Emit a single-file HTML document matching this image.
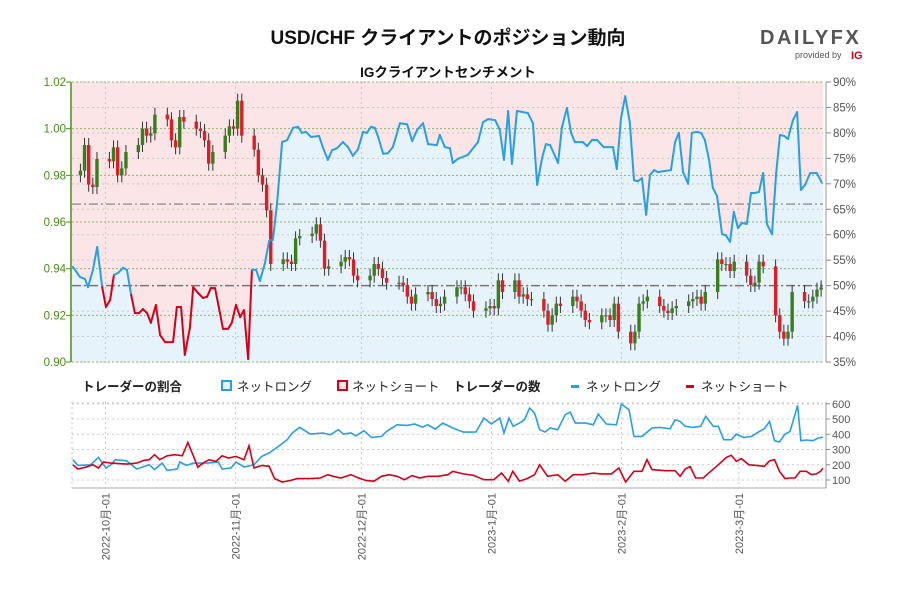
<!DOCTYPE html>
<html><head><meta charset="utf-8"><style>
body{margin:0;background:#fff;width:900px;height:600px;overflow:hidden;font-family:"Liberation Sans","Noto Sans CJK JP",sans-serif}
svg text{font-family:"Liberation Sans","Noto Sans CJK JP",sans-serif}
</style></head><body>
<svg id="c" width="900" height="600" viewBox="0 0 900 600">
<text x="448" y="44" text-anchor="middle" font-size="19" font-weight="bold" fill="#111">USD/CHF クライアントのポジション動向</text>
<text x="448" y="77" text-anchor="middle" font-size="13.5" font-weight="bold" fill="#111">IGクライアントセンチメント</text>
<g>
<text x="760" y="44" font-size="20" font-weight="bold" fill="#555" letter-spacing="2.5">DAILYFX</text>
<text x="795" y="58" font-size="9" fill="#555">provided by</text>
<text x="851" y="59" font-size="11" font-weight="bold" fill="#d0021b">IG</text>
</g>
<defs><clipPath id="pc"><rect x="72" y="82" width="751" height="280"/></clipPath>
<clipPath id="bc"><rect x="72" y="402" width="751" height="86"/></clipPath></defs>
<g id="main"></g>
<g id="bottom"></g>
<g font-size="12.5" fill="#222">
<text x="82" y="391" font-weight="bold">トレーダーの割合</text>
<rect x="222" y="381" width="9" height="9" fill="#e6f3fb" stroke="#2a9fe0" stroke-width="2"/>
<text x="237" y="391">ネットロング</text>
<rect x="338" y="381" width="9" height="9" fill="#fbe5e6" stroke="#d0021b" stroke-width="2"/>
<text x="352" y="391">ネットショート</text>
<text x="453" y="391" font-weight="bold">トレーダーの数</text>
<rect x="571" y="385" width="8" height="3" fill="#2a9fe0"/>
<text x="586" y="391">ネットロング</text>
<rect x="686" y="385" width="8" height="3" fill="#d0021b"/>
<text x="701" y="391">ネットショート</text>
</g>
</svg>
<script>
// sentiment (% net long) : day offset from 2022-09-23
const sentDays=[0.2,1.9,3.1,3.8,5.0,6.0,7.2,8.1,9.1,10.0,11.0,12.2,13.1,14.1,15.0,16.0,16.9,17.9,18.8,20.0,21.0,22.2,24.1,25.0,26.0,26.9,28.1,28.9,30.0,31.2,32.2,33.1,34.1,35.0,36.0,37.2,38.1,39.1,40.1,41.0,42.0,42.9,43.9,44.8,46.0,47.0,47.9,48.9,50.1,51.3,52.7,53.9,54.8,55.8,57.0,58.9,59.8,61.0,62.0,63.2,64.6,65.8,67.0,68.2,69.4,70.3,71.3,72.2,73.0,74.2,75.3,76.5,78.2,79.9,81.1,82.3,83.7,84.9,87.0,87.7,88.9,90.1,90.8,92.0,94.4,96.8,98.0,99.2,100.9,102.0,103.0,104.0,104.9,106.1,108.7,109.9,110.9,112.1,113.0,114.0,115.9,116.8,118.0,119.0,119.9,121.8,122.8,124.0,125.2,126.8,129.0,129.9,130.9,131.9,133.0,134.0,134.9,135.9,136.9,137.8,138.8,139.7,142.8,143.8,144.7,145.7,146.9,147.8,149.0,150.0,150.9,151.9,152.8,153.8,155.0,155.9,156.9,157.8,158.8,159.7,160.9,161.9,162.8,163.8,164.8,165.7,166.9,167.9,168.8,169.8,170.7,171.9,172.9,173.8,174.8,176.0,177.6,178.8];
const sentPct=[53.7,51.7,51.3,49.7,53.1,57.6,49.7,45.8,47.2,52.1,52.5,53.5,53.1,48.2,44.6,44.6,45.4,44.6,42.7,46.2,40.3,38.9,38.9,45.8,45.8,36.4,41.7,49.7,48.6,47.6,47.8,49.5,49.5,45.8,41.5,41.5,42.7,46.2,43.8,45.2,35.6,53.1,53.1,50.9,54.4,58.8,59.0,66.2,78.2,78.6,81.0,81.2,80.0,80.2,79.2,79.4,77.2,74.7,76.6,77.0,78.2,77.2,75.5,76.8,80.2,80.0,81.2,81.0,79.2,75.9,76.0,77.2,81.9,81.7,78.4,80.6,81.9,77.8,77.6,79.6,77.2,77.0,74.1,74.9,75.7,78.2,82.1,82.7,82.5,80.6,74.7,84.3,73.9,84.3,83.9,81.9,69.8,75.1,77.8,77.6,74.1,81.0,84.9,80.0,78.2,78.2,77.4,78.6,78.6,77.2,77.2,72.9,82.9,87.2,82.1,70.7,70.5,71.1,63.9,71.7,72.7,72.3,72.7,78.2,80.0,72.3,70.0,80.0,80.2,80.0,78.6,74.7,69.2,67.6,60.1,59.9,58.6,64.5,61.3,62.3,62.1,68.2,68.2,68.4,72.1,62.1,60.1,72.1,79.6,79.4,78.8,82.5,84.1,68.8,69.8,72.1,72.1,70.2];
// daily closes, weekdays from 2022-09-26
const closes=[0.982,0.993,0.976,0.975,0.987, 0.986,0.992,0.980,0.983,0.990, 0.993,1.000,0.997,0.998,1.006, 1.004,0.995,0.992,1.005,1.003, 1.000,0.999,0.995,0.985,0.990, 0.997,1.001,1.000,1.012,0.997, 0.991,0.980,0.976,0.965,0.942, 0.944,0.943,0.942,0.953,0.954, 0.955,0.959,0.952,0.940,0.941, 0.943,0.945,0.944,0.937,0.935, 0.937,0.942,0.940,0.936,0.934, 0.934,0.933,0.928,0.925,0.929, 0.930,0.927,0.924,0.925,0.928, 0.932,0.932,0.929,0.926,0.922, 0.923,0.924,0.923,0.935,0.930, 0.935,0.928,0.929,0.927,0.927, 0.922,0.916,0.920,0.925,0.924, 0.928,0.926,0.922,0.918,0.917, 0.920,0.920,0.918,0.925,0.913, 0.908,0.913,0.925,0.926,0.928, 0.924,0.922,0.921,0.923,0.924, 0.926,0.927,0.928,0.925,0.930, 0.944,0.942,0.942,0.939,0.943, 0.937,0.933,0.934,0.943,0.941, 0.920,0.913,0.910,0.913,0.930, 0.926,0.926,0.928,0.931,0.932];
const firstOpen=0.980;
const longDays=[0.2,1.4,4.4,6.3,8.1,9.3,10.3,13.0,15.4,18.4,19.7,21.5,22.7,25.1,25.7,27.3,29.0,32.4,34.9,35.8,37.9,39.1,41.0,43.4,45.2,47.0,48.9,51.3,52.5,54.3,56.8,59.8,61.6,63.5,64.7,66.5,67.7,69.6,71.4,73.8,75.0,77.5,79.9,81.7,83.6,84.8,86.6,88.4,90.8,93.3,96.3,98.2,100.0,102.0,103.0,104.2,105.2,106.7,107.9,109.1,110.3,111.5,112.8,114.0,115.8,117.6,118.8,120.0,122.5,124.3,125.5,127.4,129.8,131.0,132.8,134.0,135.9,138.3,140.1,142.6,143.8,145.0,146.2,148.1,149.9,151.1,152.9,154.1,155.4,157.2,158.4,160.2,162.0,163.9,165.1,166.3,167.5,168.7,170.0,171.2,172.4,173.0,173.8,175.1,176.7,177.9,179.1];
const longCount=[233,196,200,248,179,200,233,226,172,200,168,211,163,172,218,196,211,211,218,172,179,218,185,200,255,277,314,364,408,445,401,408,397,430,401,408,390,423,379,386,419,462,458,467,447,462,434,473,441,414,414,506,467,506,408,506,452,473,495,572,539,430,414,441,430,528,545,473,473,462,532,467,462,598,561,386,386,441,445,436,495,484,452,445,452,517,452,452,364,364,401,379,386,419,436,484,358,349,401,419,528,589,358,362,358,375,381];
const shortDays=[0.2,1.4,3.2,5.0,6.3,7.5,9.3,13.0,15.4,17.2,18.4,19.7,20.9,22.7,24.5,26.3,27.6,29.0,30.0,31.2,32.7,34.3,35.8,37.3,39.1,41.0,42.2,43.4,45.2,47.0,48.3,50.1,51.9,53.7,56.8,59.2,61.0,62.3,64.1,66.5,68.3,70.2,72.0,73.8,75.6,77.5,79.3,81.1,82.9,84.8,87.2,89.6,90.8,93.3,95.7,98.2,100.6,102.4,104.0,105.1,106.7,108.5,110.3,111.5,113.4,115.8,117.6,119.5,121.9,124.3,126.1,128.6,130.4,132.0,134.0,135.9,137.1,138.3,141.4,143.8,145.0,146.2,147.4,148.7,150.5,152.3,154.1,156.0,157.2,158.4,159.6,161.4,163.3,165.1,166.3,167.5,168.7,170.0,171.2,172.4,173.6,175.1,176.3,177.5,178.5,179.1];
const shortCount=[200,172,183,200,179,218,211,204,211,229,233,266,233,259,266,259,346,255,183,211,233,222,259,244,255,233,325,179,196,190,109,87,96,109,109,113,135,124,113,135,113,96,92,124,135,124,102,129,113,124,124,135,157,140,131,102,102,146,92,157,92,109,135,200,124,135,92,135,135,146,140,140,179,87,157,157,233,168,161,161,124,172,188,113,113,157,200,248,262,222,240,200,196,190,226,233,157,109,113,113,157,157,135,140,157,179];
const leftTicks=[0.90,0.92,0.94,0.96,0.98,1.00,1.02];
const rightTicks=[35,40,45,50,55,60,65,70,75,80,85,90];
const countTicks=[100,200,300,400,500,600];
const monthDays=[8,39,69,100,131,159];
const monthLabels=["2022-10月-01","2022-11月-01","2022-12月-01","2023-1月-01","2023-2月-01","2023-3月-01"];
const avgLine=66.0, midLine=50;

const NS="http://www.w3.org/2000/svg";
const X=d=>72+d*4.194;
const XC=d=>X(d)-4-d*0.056;
const YP=p=>362-(p-0.90)*2333.33;
const YS=s=>362-(s-35)*5.0909;
const YC=v=>480-(v-100)*0.1525;
function mk(t,a,parent){const e=document.createElementNS(NS,t);for(const k in a)e.setAttribute(k,a[k]);parent.appendChild(e);return e;}
const main=document.getElementById('main'), bot=document.getElementById('bottom');

let pts=sentDays.map((d,i)=>X(d).toFixed(1)+','+YS(sentPct[i]).toFixed(1));
let pink=mk('polygon',{points:'72,82 823,82 823,'+YS(sentPct[sentPct.length-1]).toFixed(1)+' '+pts.slice().reverse().join(' ')+' 72,'+YS(sentPct[0]).toFixed(1),fill:'#fbe5e6'},main);


let blue=mk('polygon',{points:'72,362 72,'+YS(sentPct[0]).toFixed(1)+' '+pts.join(' ')+' 823,'+YS(sentPct[sentPct.length-1]).toFixed(1)+' 823,362',fill:'#e6f3fb'},main);



rightTicks.forEach(t=>{const l=mk('line',{x1:72,x2:823,y1:YS(t),y2:YS(t),stroke:'#c8c8c8','stroke-dasharray':'2,3'},main);

});
leftTicks.forEach(t=>{const l=mk('line',{x1:72,x2:823,y1:YP(t),y2:YP(t),stroke:'#8cb86a','stroke-dasharray':'2,2'},main);


const tx=mk('text',{x:66,y:YP(t)+4,'text-anchor':'end','font-size':11.5,fill:'#4a8a1a'},main);tx.textContent=t.toFixed(2);


mk('line',{x1:66,x2:71,y1:YP(t),y2:YP(t),stroke:'#4a8a1a'},main);});
rightTicks.forEach(t=>{const tx=mk('text',{x:833,y:YS(t)+4,'font-size':11.5,fill:'#555'},main);tx.textContent=t+'%';


mk('line',{x1:826,x2:831,y1:YS(t),y2:YS(t),stroke:'#888'},main);});
monthDays.forEach(d=>{const l=mk('line',{x1:X(d),x2:X(d),y1:82,y2:362,stroke:'#c8c8c8','stroke-dasharray':'2,3'},main);

});
[[avgLine,'average-line'],[midLine,'fifty-line']].forEach(([v,n])=>{const l=mk('line',{x1:72,x2:823,y1:YS(v),y2:YS(v),stroke:n=='fifty-line'?'#777':'#999','stroke-width':1.5,'stroke-dasharray':'9,3,2,3'},main);

});
let ax=mk('line',{x1:71,x2:71,y1:82,y2:362,stroke:'#4a8a1a','stroke-width':1.5},main);


let ax2=mk('line',{x1:826,x2:826,y1:82,y2:362,stroke:'#999','stroke-width':1},main);



const cg=mk('g',{'clip-path':'url(#pc)'},main);


let day=3, prev=firstOpen;
closes.forEach((c,i)=>{
  const o=prev; const hi=Math.max(o,c)+0.003, lo=Math.min(o,c)-0.003;
  const x=XC(day), up=c>=o;
  const w=mk('line',{x1:x,x2:x,y1:YP(hi),y2:YP(lo),stroke:'#333','stroke-width':1},cg);
  
  
  const b=mk('rect',{x:x-1.7,y:YP(Math.max(o,c)),width:3.4,height:Math.max(1.2,Math.abs(YP(o)-YP(c))),fill:up?'#3a7d1e':'#d9202a'},cg);
  
  
  prev=c; day+= (i%5==4)?3:1;
});

const lg=mk('g',{'clip-path':'url(#pc)',fill:'none','stroke-width':2},main);


for(let i=0;i<sentDays.length-1;i++){
  const m=(sentPct[i]+sentPct[i+1])/2;
  const s=mk('line',{x1:X(sentDays[i]),y1:YS(sentPct[i]),x2:X(sentDays[i+1]),y2:YS(sentPct[i+1]),stroke:m>=50?'#2a9fe0':'#d0021b','stroke-linecap':'round'},lg);
  
  
}

countTicks.forEach(t=>{const l=mk('line',{x1:72,x2:823,y1:YC(t),y2:YC(t),stroke:'#c8c8c8','stroke-dasharray':'2,3'},bot);


const tx=mk('text',{x:832,y:YC(t)+4,'font-size':11,fill:'#555'},bot);tx.textContent=t;


mk('line',{x1:826,x2:830,y1:YC(t),y2:YC(t),stroke:'#888'},bot);});
mk('line',{x1:72,x2:823,y1:403,y2:403,stroke:'#c8c8c8','stroke-dasharray':'2,3'},bot);
let bx=mk('line',{x1:72,x2:826,y1:488,y2:488,stroke:'#aaa'},bot);


mk('line',{x1:826,x2:826,y1:402,y2:488,stroke:'#999'},bot);
mk('line',{x1:72,x2:72,y1:402,y2:488,stroke:'#c8c8c8','stroke-dasharray':'2,3'},bot);
monthDays.forEach((d,i)=>{const l=mk('line',{x1:X(d),x2:X(d),y1:402,y2:492,stroke:'#c8c8c8','stroke-dasharray':'2,3'},bot);


const tx=mk('text',{x:0,y:0,'text-anchor':'end','font-size':11,fill:'#555',transform:'translate('+(X(d)+4)+',493) rotate(-90)'},bot);tx.textContent=monthLabels[i];

});
function poly(days,vals,color,name){const p=mk('polyline',{points:days.map((d,i)=>X(d).toFixed(1)+','+YC(vals[i]).toFixed(1)).join(' '),fill:'none',stroke:color,'stroke-width':1.6,'clip-path':'url(#bc)'},bot);

}
poly(longDays,longCount,'#2a9fe0','long-count-line');
poly(shortDays,shortCount,'#d0021b','short-count-line');
</script>
</body></html>
